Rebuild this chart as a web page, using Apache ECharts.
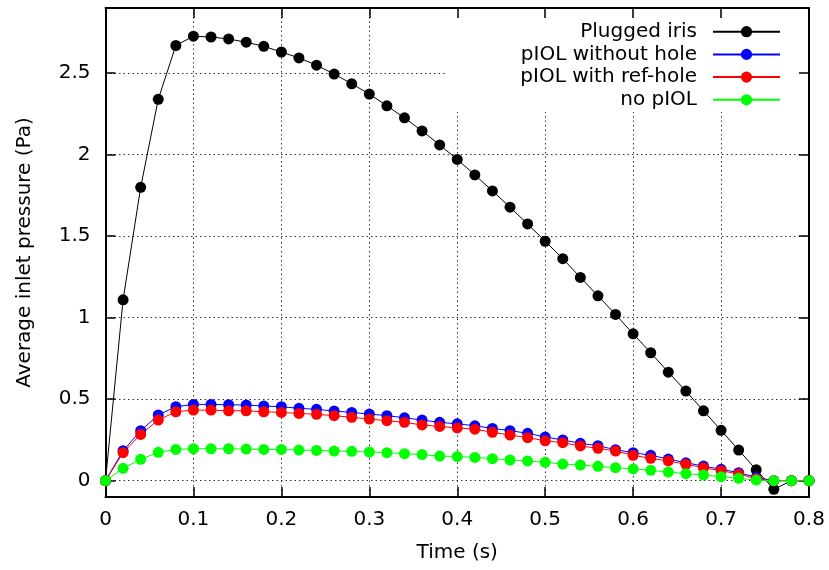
<!DOCTYPE html>
<html><head><meta charset="utf-8">
<script src="https://cdn.jsdelivr.net/npm/echarts@6/dist/echarts.min.js"></script>
<style>html,body{margin:0;padding:0;background:#fff}#c{width:829px;height:570px}</style>
</head><body><div id="c"></div>
<script>
// ---- data ----
const time = [0, 0.02, 0.04, 0.06, 0.08, 0.10, 0.12, 0.14, 0.16, 0.18, 0.20, 0.22, 0.24, 0.26, 0.28, 0.30,
  0.32, 0.34, 0.36, 0.38, 0.40, 0.42, 0.44, 0.46, 0.48, 0.50, 0.52, 0.54, 0.56, 0.58, 0.60,
  0.62, 0.64, 0.66, 0.68, 0.70, 0.72, 0.74, 0.76, 0.78, 0.80];
const pluggedIris = [0, 1.11, 1.80, 2.34, 2.67, 2.727, 2.722, 2.71, 2.69, 2.665, 2.63, 2.594, 2.549, 2.495, 2.435, 2.372,
  2.30, 2.226, 2.146, 2.06, 1.971, 1.876, 1.778, 1.678, 1.575, 1.469, 1.362, 1.247, 1.134, 1.02, 0.901,
  0.785, 0.666, 0.55, 0.429, 0.309, 0.188, 0.067, -0.053, 0, 0];
const piolWithoutHole = [0, 0.184, 0.307, 0.403, 0.454, 0.468, 0.468, 0.466, 0.464, 0.458, 0.454, 0.444, 0.438, 0.427, 0.419, 0.409,
  0.399, 0.386, 0.372, 0.358, 0.349, 0.337, 0.321, 0.307, 0.291, 0.268, 0.250, 0.229, 0.215, 0.190, 0.172,
  0.156, 0.133, 0.110, 0.090, 0.070, 0.049, 0.021, 0, 0, 0];
const piolWithRefHole = [0, 0.172, 0.284, 0.372, 0.423, 0.433, 0.433, 0.429, 0.429, 0.423, 0.419, 0.413, 0.407, 0.399, 0.389, 0.378,
  0.368, 0.358, 0.342, 0.333, 0.324, 0.316, 0.297, 0.280, 0.264, 0.245, 0.233, 0.213, 0.199, 0.182, 0.156,
  0.137, 0.121, 0.101, 0.080, 0.061, 0.041, 0.012, 0, 0, 0];
const noPiol = [0, 0.076, 0.131, 0.174, 0.192, 0.196, 0.196, 0.196, 0.194, 0.192, 0.192, 0.188, 0.186, 0.182, 0.180, 0.176,
  0.172, 0.166, 0.160, 0.151, 0.148, 0.143, 0.135, 0.127, 0.121, 0.113, 0.102, 0.096, 0.088, 0.080, 0.072,
  0.064, 0.053, 0.043, 0.035, 0.025, 0.015, 0.004, 0, 0, 0];
const seriesNames = ['Plugged iris', 'pIOL without hole', 'pIOL with ref-hole', 'no pIOL'];
const yTickValues = [0, 0.5, 1, 1.5, 2, 2.5];
const xTitle = 'Time (s)';
const yTitle = 'Average inlet pressure (Pa)';

// ---- chart ----
const FONT = 'DejaVu Sans';
const colors = ['#000000', '#0000ff', '#ff0000', '#00ff00'];
const seriesValues = [pluggedIris, piolWithoutHole, piolWithRefHole, noPiol];
const legendTops = [21.7, 44.4, 67.1, 89.8];

const chart = echarts.init(document.getElementById('c'), null, {renderer: 'canvas'});

const axisLineStyle = {show: true, onZero: false, lineStyle: {color: '#000', width: 2}};
const tickStyle = {show: true, inside: true, length: 10, lineStyle: {color: '#000', width: 1.5}};
const gridLine = {show: true, lineStyle: {color: '#333', width: 1, type: [1.5, 3]}};

const option = {
  animation: false,
  backgroundColor: '#fff',
  grid: {left: 105.5, right: 20, top: 8, bottom: 73, containLabel: false},
  xAxis: [{
    type: 'value', min: 0, max: 0.8, interval: 0.1, position: 'bottom', z: 0,
    axisLine: axisLineStyle, axisTick: tickStyle, splitLine: gridLine,
    axisLabel: {color: '#000', fontFamily: FONT, fontSize: 20, margin: 13},
    name: xTitle, nameLocation: 'middle', nameGap: 46,
    nameTextStyle: {color: '#000', fontFamily: FONT, fontSize: 20}
  }, {
    type: 'value', min: 0, max: 0.8, interval: 0.1, position: 'top', z: 3,
    axisLine: axisLineStyle, axisTick: tickStyle, splitLine: {show: false},
    axisLabel: {show: false}
  }],
  yAxis: [{
    type: 'value', min: -0.1, max: 2.9, position: 'left', z: 0,
    axisLine: axisLineStyle,
    axisTick: Object.assign({}, tickStyle, {customValues: yTickValues}),
    splitLine: gridLine,
    axisLabel: {color: '#000', fontFamily: FONT, fontSize: 20, margin: 15, customValues: yTickValues},
    name: yTitle, nameLocation: 'middle', nameGap: 71, nameRotate: 90,
    nameTextStyle: {color: '#000', fontFamily: FONT, fontSize: 20}
  }, {
    type: 'value', min: -0.1, max: 2.9, position: 'right', z: 3,
    axisLine: axisLineStyle,
    axisTick: Object.assign({}, tickStyle, {customValues: yTickValues}),
    splitLine: {show: false}, axisLabel: {show: false}
  }],
  graphic: [{
    type: 'rect', z: 1, silent: true,
    shape: {x: 445, y: 9, width: 363, height: 103},
    style: {fill: '#fff'}
  }],
  legend: seriesNames.map((n, i) => ({
    data: [n], orient: 'vertical', right: 48, top: legendTops[i], padding: 0,
    align: 'right', itemWidth: 67, itemHeight: 14, selectedMode: false,
    textStyle: {color: '#000', fontFamily: FONT, fontSize: 20, padding: [0, 11, 0, 0]}
  })),
  series: seriesNames.map((n, i) => ({
    name: n, type: 'line', xAxisIndex: 0, yAxisIndex: 0,
    data: time.map((t, k) => [t, seriesValues[i][k]]),
    symbol: 'circle', symbolSize: 11, showSymbol: true,
    lineStyle: {color: colors[i], width: 1},
    itemStyle: {color: colors[i]},
    emphasis: {disabled: true}
  }))
};
chart.setOption(option);
</script></body></html>
